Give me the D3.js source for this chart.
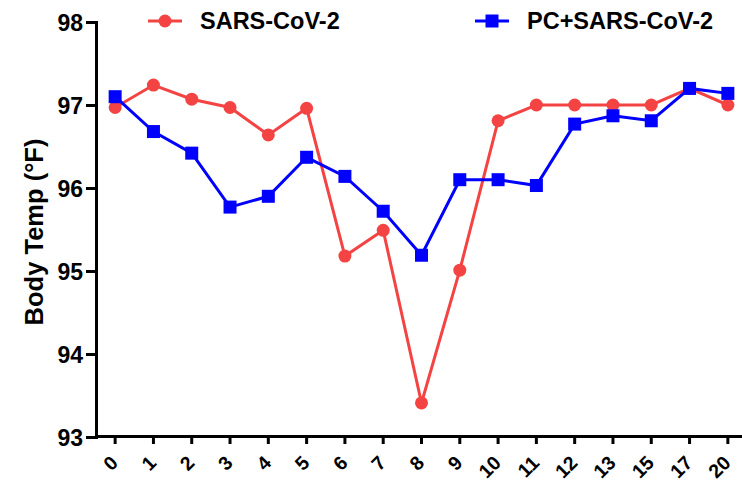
<!DOCTYPE html>
<html>
<head>
<meta charset="utf-8">
<script src="https://cdn.jsdelivr.net/npm/d3@7"></script>
<style>
  body { margin: 0; background: #fff; }
  text { font-family: "Liberation Sans", Arial, sans-serif; font-weight: bold; fill: #000; }
</style>
</head>
<body>
<div id="chart"></div>
<script>
// data
const days = ["0", "1", "2", "3", "4", "5", "6", "7", "8", "9", "10", "11", "12", "13", "15", "17", "20"];
const sars = [96.97, 97.24, 97.07, 96.97, 96.64, 96.96, 95.18, 95.49, 93.41, 95.01, 96.81, 97.0, 97.0, 97.0, 97.0, 97.2, 97.0];
const pcSars = [97.1, 96.68, 96.42, 95.77, 95.9, 96.37, 96.14, 95.72, 95.19, 96.1, 96.1, 96.03, 96.77, 96.87, 96.81, 97.2, 97.14];
const yTicks = [93, 94, 95, 96, 97, 98];

const width = 742, height = 484;
const red = "#f44343", blue = "#0000ff";

const svg = d3.select("#chart").append("svg")
  .attr("width", width)
  .attr("height", height);

let x = d3.scaleBand().domain(days).range([96, 747]);
let y = d3.scaleLinear().domain([93, 98]).range([437, 22]);
let cx = d => x(d) + x.bandwidth() / 2;

// y axis
let yAxis = svg.append("g")
  .attr("transform", "translate(96,0)")
  .call(d3.axisLeft(y).tickValues(yTicks).tickFormat(d3.format("d")).tickSize(10).tickPadding(3));
yAxis.select(".domain").attr("stroke", "#000").attr("stroke-width", 3);
yAxis.selectAll(".tick line").attr("stroke", "#000").attr("stroke-width", 3);
yAxis.selectAll("text").style("font-size", "23px").attr("dy", "0.36em");

// x axis, labels turned 45deg
let xAxis = svg.append("g")
  .attr("transform", "translate(0,436)")
  .call(d3.axisBottom(x).tickSize(8).tickSizeOuter(0));
xAxis.select(".domain").attr("stroke", "#000").attr("stroke-width", 3);
xAxis.selectAll(".tick line").attr("stroke", "#000").attr("stroke-width", 3);
xAxis.selectAll("text")
  .style("font-size", "19.5px")
  .style("text-anchor", "end")
  .attr("x", 0)
  .attr("y", 0)
  .attr("dy", 0)
  .attr("transform", "translate(4,28) rotate(-45)");

// y label
svg.append("text")
  .attr("transform", "translate(43,232) rotate(-90)")
  .style("text-anchor", "middle")
  .style("font-size", "25.5px")
  .text("Body Temp (°F)");

// series
let line = d3.line().x((d, i) => cx(days[i])).y(d => y(d));

svg.append("path").datum(sars)
  .attr("fill", "none").attr("stroke", red).attr("stroke-width", 3)
  .attr("d", line);

svg.append("path").datum(pcSars)
  .attr("fill", "none").attr("stroke", blue).attr("stroke-width", 3)
  .attr("d", line);

svg.selectAll(".sarsDot").data(sars).enter()
  .append("circle").attr("class", "sarsDot")
  .attr("cx", (d, i) => cx(days[i]))
  .attr("cy", d => y(d))
  .attr("r", 6.5)
  .attr("fill", red);

svg.selectAll(".pcDot").data(pcSars).enter()
  .append("rect").attr("class", "pcDot")
  .attr("x", (d, i) => cx(days[i]) - 6.5)
  .attr("y", d => y(d) - 6.5)
  .attr("width", 13).attr("height", 13)
  .attr("fill", blue);

// legend
let lg1 = svg.append("g").attr("transform", "translate(148,21)");
lg1.append("line").attr("x1", 0).attr("x2", 34).attr("stroke", red).attr("stroke-width", 3);
lg1.append("circle").attr("cx", 17).attr("r", 6.5).attr("fill", red);
lg1.append("text").attr("x", 52).attr("y", 7.5).style("font-size", "23.5px").text("SARS-CoV-2");

let lg2 = svg.append("g").attr("transform", "translate(475,21)");
lg2.append("line").attr("x1", 0).attr("x2", 34).attr("stroke", blue).attr("stroke-width", 3);
lg2.append("rect").attr("x", 10.5).attr("y", -6.5).attr("width", 13).attr("height", 13).attr("fill", blue);
lg2.append("text").attr("x", 52).attr("y", 7.5).style("font-size", "23.5px").text("PC+SARS-CoV-2");
</script>
</body>
</html>
